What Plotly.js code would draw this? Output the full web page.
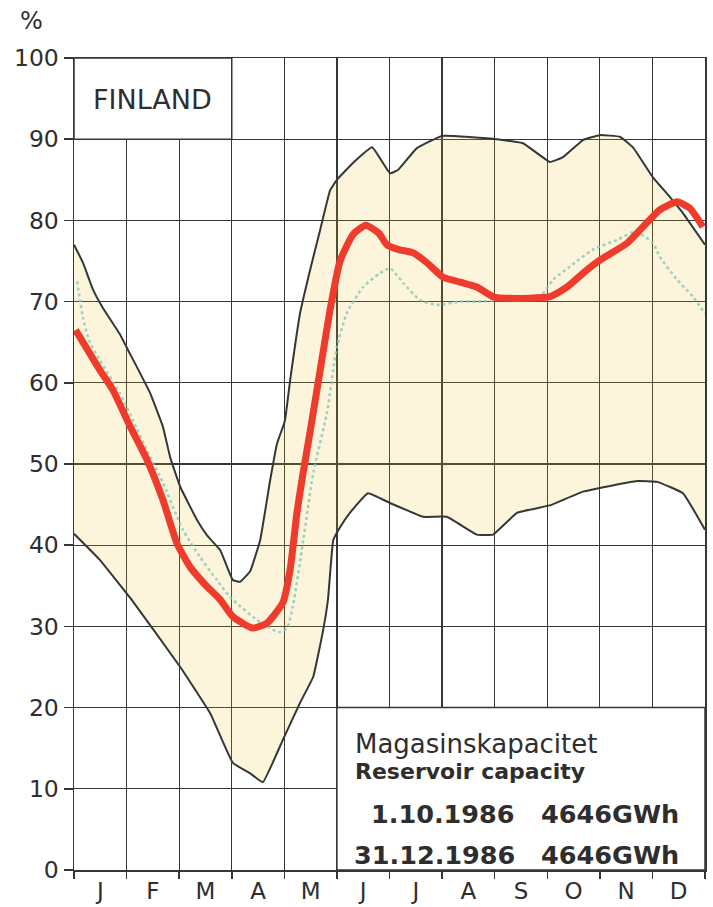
<!DOCTYPE html>
<html>
<head>
<meta charset="utf-8">
<script src="https://cdn.plot.ly/plotly-3.0.1.min.js"></script>
<style>html,body{margin:0;padding:0;background:#fff;}</style>
</head>
<body>
<div id="chart" style="width:713px;height:907px;"></div>
<script>
// ---- data (x in months from 1 Jan, 0..12; y in % of reservoir capacity) ----
const months = ['J','F','M','A','M','J','J','A','S','O','N','D'];
const yTicks = [0,10,20,30,40,50,60,70,80,90,100];

// upper envelope (max)
const maxX = [0, 0.17, 0.36, 0.55, 0.87, 1.07, 1.2, 1.45, 1.69, 1.83, 2.02, 2.34, 2.53, 2.78, 3.02, 3.16, 3.35, 3.54, 3.73, 3.86, 4.01, 4.11, 4.30, 4.49, 4.68, 4.87, 5.00, 5.31, 5.67, 6.01, 6.16, 6.52, 7.00, 8.04, 8.54, 9.05, 9.30, 9.68, 10.00, 10.38, 10.63, 11.01, 11.33, 11.58, 12];
const maxY = [77.0, 74.8, 71.5, 69.2, 66.0, 63.5, 61.9, 58.7, 54.6, 50.8, 47.2, 43.1, 41.2, 39.4, 35.7, 35.5, 36.8, 40.6, 48.0, 52.5, 55.3, 60.3, 68.6, 73.9, 78.8, 83.7, 85.0, 87.1, 89.0, 85.8, 86.2, 88.9, 90.4, 90.0, 89.5, 87.2, 87.8, 89.9, 90.5, 90.3, 89.0, 85.3, 82.9, 80.9, 77.0];

// lower envelope (min)
const minX = [0, 0.49, 1.07, 2.02, 2.59, 3.02, 3.35, 3.59, 3.97, 4.30, 4.55, 4.74, 4.83, 4.93, 5.06, 5.25, 5.59, 6.01, 6.64, 7.09, 7.66, 7.97, 8.43, 9.05, 9.68, 10.71, 11.09, 11.58, 12];
const minY = [41.4, 38.2, 33.5, 25.0, 19.3, 13.2, 11.9, 10.8, 16.0, 20.6, 23.8, 29.6, 33.3, 40.6, 42.2, 44.0, 46.4, 45.2, 43.5, 43.5, 41.3, 41.3, 44.0, 44.9, 46.6, 47.9, 47.8, 46.4, 41.9];

// 1986 (red)
const redX = [0.03, 0.49, 0.74, 1.07, 1.39, 1.69, 1.96, 2.21, 2.53, 2.78, 3.02, 3.40, 3.67, 3.97, 4.11, 4.24, 4.36, 4.49, 4.68, 4.87, 5.06, 5.31, 5.55, 5.80, 5.95, 6.18, 6.45, 6.71, 7.02, 7.34, 7.66, 7.97, 8.29, 9.05, 9.38, 9.68, 10.00, 10.52, 10.82, 11.14, 11.47, 11.71, 11.96];
const redY = [66.5, 61.6, 59.1, 54.6, 50.5, 45.6, 40.2, 37.3, 34.9, 33.3, 31.2, 29.8, 30.4, 32.9, 37.0, 44.0, 49.0, 54.0, 61.5, 69.0, 75.0, 78.3, 79.4, 78.4, 77.0, 76.4, 76.0, 74.8, 73.0, 72.4, 71.8, 70.6, 70.4, 70.6, 71.8, 73.5, 75.1, 77.2, 79.2, 81.3, 82.3, 81.5, 79.2];

// dotted (average / median)
const dotX = [0.06, 0.17, 0.30, 0.49, 0.87, 1.12, 1.40, 1.69, 2.07, 2.40, 2.72, 2.97, 3.54, 3.90, 4.05, 4.16, 4.36, 4.55, 4.81, 5.00, 5.19, 5.50, 5.82, 6.01, 6.26, 6.58, 6.90, 7.34, 7.66, 8.29, 8.86, 9.11, 9.43, 9.87, 10.33, 10.67, 11.01, 11.14, 11.47, 11.77, 12];
const dotY = [72.5, 68.0, 65.0, 62.8, 58.7, 55.4, 51.5, 47.7, 41.9, 38.5, 35.7, 33.6, 30.5, 29.3, 29.8, 32.4, 40.6, 48.9, 56.3, 64.4, 68.6, 71.8, 73.5, 74.1, 72.3, 70.2, 69.6, 70.0, 70.0, 70.3, 70.6, 72.7, 74.3, 76.4, 77.6, 78.6, 77.2, 75.5, 72.7, 70.6, 68.5];

// ---- derived ----
const monthCenters = months.map((m, i) => i + 0.5);
const monthEdges = months.map((m, i) => i).concat([months.length]);
const bandX = maxX.concat(minX.slice().reverse());
const bandY = maxY.concat(minY.slice().reverse());

const ink = '#333836';
const traces = [
  {x: bandX, y: bandY, type: 'scatter', mode: 'lines', fill: 'toself',
   fillcolor: 'rgba(238,190,40,0.17)', line: {width: 0}, hoverinfo: 'skip'},
  {x: dotX, y: dotY, type: 'scatter', mode: 'lines',
   line: {color: 'rgba(130,200,185,0.8)', width: 2.5, dash: 'dot', shape: 'spline', smoothing: 0.6}},
  {x: minX, y: minY, type: 'scatter', mode: 'lines',
   line: {color: ink, width: 2, shape: 'spline', smoothing: 0.3}},
  {x: maxX, y: maxY, type: 'scatter', mode: 'lines',
   line: {color: ink, width: 2, shape: 'spline', smoothing: 0.3}},
  {x: redX, y: redY, type: 'scatter', mode: 'lines',
   line: {color: '#ee3b2b', width: 7, shape: 'spline', smoothing: 0.5}}
];

const txt = '#2e2e2e';
const layout = {
  width: 713, height: 907,
  margin: {l: 74, r: 8, t: 58, b: 37},
  paper_bgcolor: '#ffffff', plot_bgcolor: '#ffffff',
  showlegend: false,
  xaxis: {
    range: [0, 12], tickmode: 'array', tickvals: monthCenters, ticktext: months,
    ticks: '', showgrid: false, zeroline: false,
    showline: true, mirror: true, linecolor: ink, linewidth: 1.5,
    tickfont: {family: 'DejaVu Sans', size: 23, color: txt},
    minor: {tickmode: 'array', tickvals: monthEdges, ticks: 'outside', ticklen: 7,
            tickcolor: ink, tickwidth: 1.5, showgrid: true, gridcolor: ink, gridwidth: 1.3},
    fixedrange: true
  },
  yaxis: {
    range: [0, 100], tickmode: 'array', tickvals: yTicks,
    ticks: 'outside', ticklen: 9, tickcolor: ink, tickwidth: 1.5,
    showgrid: true, gridcolor: ink, gridwidth: 1.3, zeroline: false,
    showline: true, mirror: true, linecolor: ink, linewidth: 1.5,
    tickfont: {family: 'DejaVu Sans', size: 23.5, color: txt},
    fixedrange: true
  },
  shapes: [
    {type: 'rect', xref: 'x', yref: 'y', x0: 0, x1: 3, y0: 90, y1: 100,
     fillcolor: '#ffffff', line: {color: ink, width: 1.5}, layer: 'between'},
    {type: 'rect', xref: 'x', yref: 'y', x0: 5, x1: 12, y0: 0, y1: 20,
     fillcolor: '#ffffff', line: {color: ink, width: 1.5}, layer: 'between'}
  ],
  annotations: [
    {text: '%', xref: 'paper', yref: 'paper', x: -0.068, y: 1.046, showarrow: false,
     xanchor: 'center', yanchor: 'middle', font: {family: 'DejaVu Sans', size: 24, color: txt}},
    {text: 'FINLAND', xref: 'x', yref: 'y', x: 0.33, y: 94.9, showarrow: false,
     xanchor: 'left', yanchor: 'middle', font: {family: 'DejaVu Sans', size: 27, color: txt}},
    {text: 'Magasinskapacitet', xref: 'x', yref: 'y', x: 5.3, y: 15.5, showarrow: false,
     xanchor: 'left', yanchor: 'middle', font: {family: 'DejaVu Sans', size: 26, color: txt}},
    {text: '<b>Reservoir capacity</b>', xref: 'x', yref: 'y', x: 5.3, y: 12.1, showarrow: false,
     xanchor: 'left', yanchor: 'middle', font: {family: 'DejaVu Sans', size: 22, color: txt}},
    {text: '<b>1.10.1986</b>', xref: 'x', yref: 'y', x: 8.42, y: 6.9, showarrow: false,
     xanchor: 'right', yanchor: 'middle', font: {family: 'DejaVu Sans', size: 25.5, color: txt}},
    {text: '<b>4646GWh</b>', xref: 'x', yref: 'y', x: 11.54, y: 6.9, showarrow: false,
     xanchor: 'right', yanchor: 'middle', font: {family: 'DejaVu Sans', size: 25.5, color: txt}},
    {text: '<b>31.12.1986</b>', xref: 'x', yref: 'y', x: 8.42, y: 1.85, showarrow: false,
     xanchor: 'right', yanchor: 'middle', font: {family: 'DejaVu Sans', size: 25.5, color: txt}},
    {text: '<b>4646GWh</b>', xref: 'x', yref: 'y', x: 11.54, y: 1.85, showarrow: false,
     xanchor: 'right', yanchor: 'middle', font: {family: 'DejaVu Sans', size: 25.5, color: txt}}
  ]
};

Plotly.newPlot('chart', traces, layout, {displayModeBar: false, staticPlot: true});
</script>
</body>
</html>
